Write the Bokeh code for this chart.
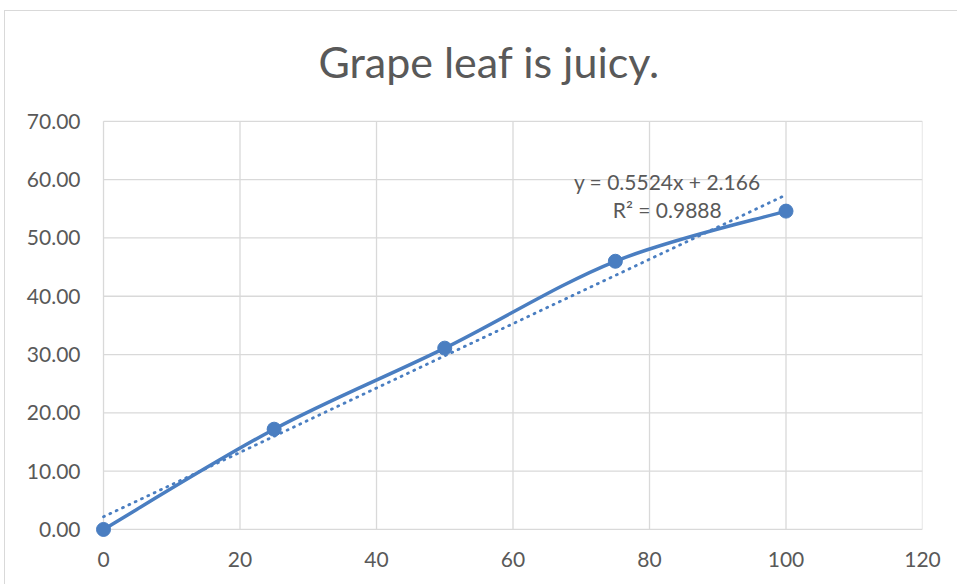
import numpy as np
from bokeh.plotting import figure
from bokeh.models import Range1d, FixedTicker, PrintfTickFormatter, Label
from bokeh.core.properties import value
from bokeh.embed import file_html
from bokeh.resources import INLINE

# ---- data ----
x_vals = [0, 25, 50, 75, 100]
y_vals = [0.0, 17.2, 31.1, 46.0, 54.6]
x_ticks = [0, 20, 40, 60, 80, 100, 120]
y_ticks = [0, 10, 20, 30, 40, 50, 60, 70]
title_text = "Grape leaf is juicy."
eq_lines = ["y = 0.5524x + 2.166", "R\u00b2 = 0.9888"]

BLUE = "#4a7ec1"
GRID = "#d9d9d9"
TXT = "#595959"
FONT = "Lato"

# the frame extends up to the top of the chart so that the title can sit inside it;
# the visible plot area (0..120 x 0..70) is delimited by the drawn gridlines
p = figure(width=953, height=574, output_backend="svg", toolbar_location=None,
           x_range=Range1d(-1.32, 120), y_range=Range1d(-1.55, 87.12),
           min_border_left=89, min_border_right=36, min_border_top=10, min_border_bottom=47)
p.background_fill_color = "white"
p.border_fill_color = "white"
p.outline_line_color = None
p.xgrid.visible = False
p.ygrid.visible = False

p.add_layout(Label(x=56.5, y=80.2, text=title_text, text_font=FONT, text_font_size="43px",
                   text_color=TXT, text_align="center", text_baseline="alphabetic"))

for ax in (p.xaxis[0], p.yaxis[0]):
    ax.axis_line_color = None
    ax.major_tick_line_color = None
    ax.minor_tick_line_color = None
    ax.major_tick_out = 0
    ax.major_tick_in = 0
    ax.major_label_text_font = FONT
    ax.major_label_text_font_size = "21px"
    ax.major_label_text_color = TXT
p.xaxis.ticker = FixedTicker(ticks=x_ticks)
p.yaxis.ticker = FixedTicker(ticks=y_ticks)
p.yaxis.formatter = PrintfTickFormatter(format="%.2f")
p.yaxis.major_label_standoff = 14
p.xaxis.major_label_standoff = 13

# gridlines drawn from the tick lists
xt = np.array(x_ticks, dtype=float)
yt = np.array(y_ticks, dtype=float)
p.segment(x0=xt, y0=np.full_like(xt, yt.min()), x1=xt, y1=np.full_like(xt, yt.max()),
          line_color=GRID, line_width=1.3)
p.segment(x0=np.full_like(yt, xt.min()), y0=yt, x1=np.full_like(yt, xt.max()), y1=yt,
          line_color=GRID, line_width=1.3)

# linear trendline
xa = np.array(x_vals, dtype=float)
ya = np.array(y_vals, dtype=float)
slope, intercept = np.polyfit(xa, ya, 1)
tx = np.array([xa.min(), xa.max()])
p.line(tx, slope * tx + intercept, line_color=BLUE, line_width=2.8,
       line_dash="1 6", line_cap="round")

# smoothed line (Excel-style cardinal bezier)
P = np.column_stack([xa, ya])
Pe = np.vstack([P[0], P, P[-1]])
c0 = Pe[1:-2] + (Pe[2:-1] - Pe[0:-3]) / 6.0
c1 = Pe[2:-1] - (Pe[3:] - Pe[1:-2]) / 6.0
p.bezier(x0=P[:-1, 0], y0=P[:-1, 1], x1=P[1:, 0], y1=P[1:, 1],
         cx0=c0[:, 0], cy0=c0[:, 1], cx1=c1[:, 0], cy1=c1[:, 1],
         line_color=BLUE, line_width=3.5, line_cap="round")

p.scatter(x_vals, y_vals, size=14, fill_color=BLUE, line_color=BLUE)

# trendline equation label
p.text(x=[82.6, 82.6], y=[59.7, 54.8], text=eq_lines, text_font=value(FONT),
       text_font_size="21px", text_color=TXT, text_align="center", text_baseline="middle")

p.styles = {"margin-left": "4px", "margin-top": "10px",
            "border-left": "1px solid #d9d9d9", "border-top": "1px solid #d9d9d9"}

open("out.html", "w").write(file_html(p, INLINE))
